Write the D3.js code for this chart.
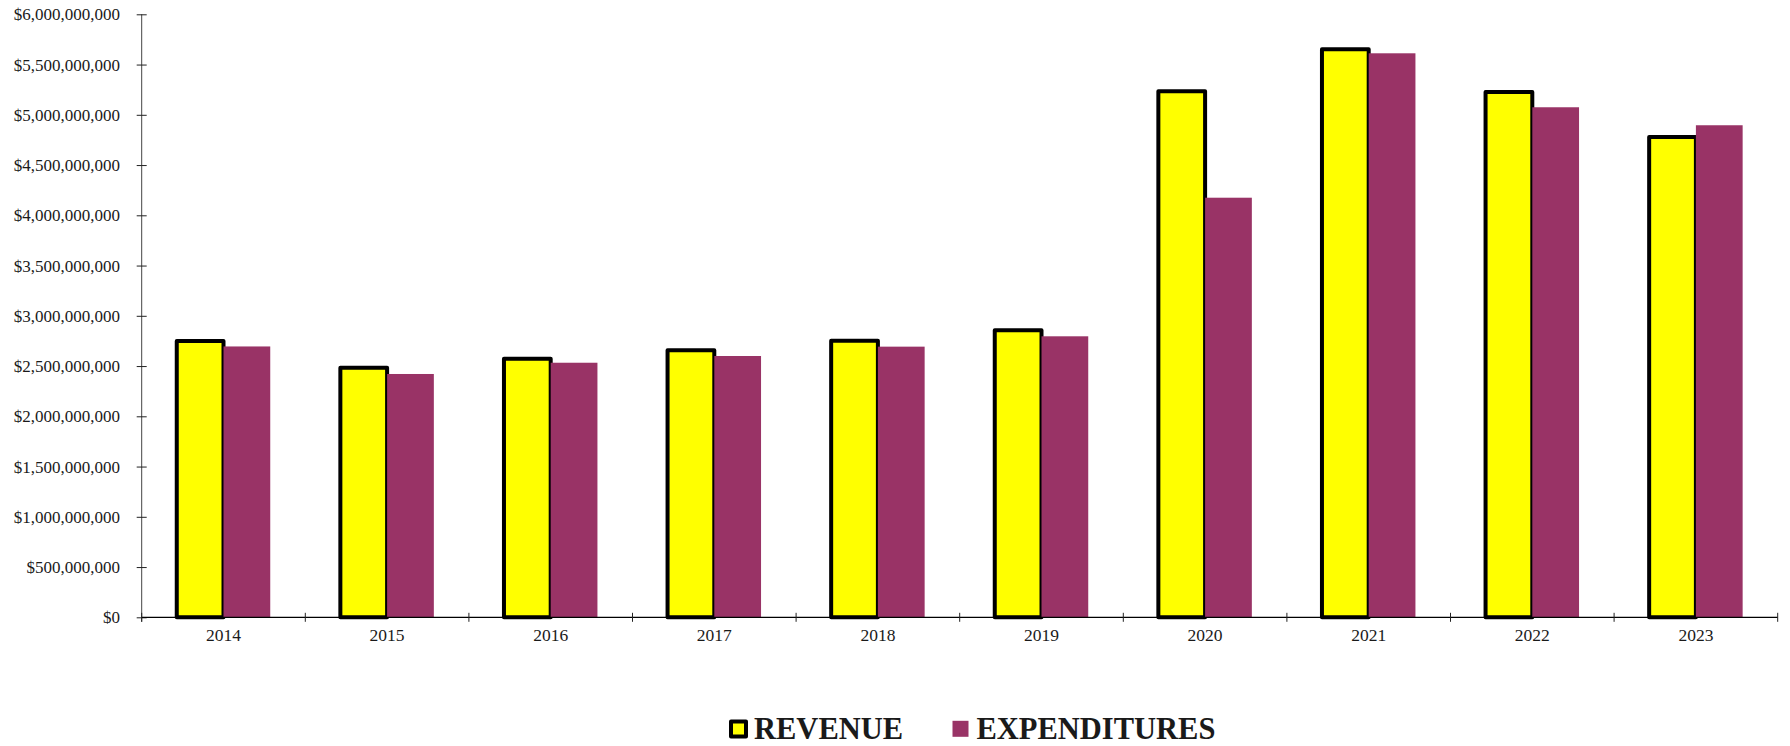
<!DOCTYPE html>
<html>
<head>
<meta charset="utf-8">
<script src="https://cdn.jsdelivr.net/npm/d3@7"></script>
<style>
  html, body { margin: 0; padding: 0; background: #fff; }
  svg { display: block; }
  text { font-family: "Liberation Serif", "Times New Roman", serif; fill: #1a1a1a; }
</style>
</head>
<body>
<svg id="chart" width="1790" height="746"></svg>
<script>
// Fiscal years shown on the category axis
const years = ["2014", "2015", "2016", "2017", "2018", "2019", "2020", "2021", "2022", "2023"];

// Annual totals in dollars
const revenue = [2750000000, 2484000000, 2573000000, 2657000000, 2752000000,
                 2856000000, 5234000000, 5652000000, 5227000000, 4779000000];
const expenditures = [2695000000, 2421000000, 2533000000, 2600000000, 2693000000,
                      2796000000, 4175000000, 5612000000, 5075000000, 4896000000];

// Value axis ticks
const yTicks = [0, 500000000, 1000000000, 1500000000, 2000000000, 2500000000,
                3000000000, 3500000000, 4000000000, 4500000000, 5000000000,
                5500000000, 6000000000];

const seriesNames = ["REVENUE", "EXPENDITURES"];

const svg = d3.select("#chart");

const plot = { left: 141.7, right: 1777.7, top: 14.3, bottom: 617.3 };

const y = d3.scaleLinear()
  .domain([0, 6000000000])
  .range([plot.bottom, plot.top]);

const x0 = d3.scaleBand()
  .domain(years)
  .range([plot.left, plot.right])
  .padding(0);

const x1 = d3.scaleBand()
  .domain(seriesNames)
  .range([0, x0.bandwidth()])
  .paddingInner(0)
  .paddingOuter(0.75);

const fmt = v => "$" + d3.format(",")(v);

// Revenue bars: yellow with heavy black outline
svg.append("g")
  .selectAll("rect")
  .data(years.map((yr, i) => ({ yr, v: revenue[i] })))
  .join("rect")
  .attr("x", d => x0(d.yr) + x1("REVENUE"))
  .attr("y", d => y(d.v))
  .attr("width", x1.bandwidth())
  .attr("height", d => y(0) - y(d.v))
  .attr("fill", "#ffff00")
  .attr("stroke", "#000")
  .attr("stroke-width", 4)
  .attr("stroke-linejoin", "round");

// Expenditure bars: plum, no outline
svg.append("g")
  .selectAll("rect")
  .data(years.map((yr, i) => ({ yr, v: expenditures[i] })))
  .join("rect")
  .attr("x", d => x0(d.yr) + x1("EXPENDITURES"))
  .attr("y", d => y(d.v))
  .attr("width", x1.bandwidth())
  .attr("height", d => y(0) - y(d.v))
  .attr("fill", "#993366");

// Value axis
const yAxis = svg.append("g")
  .attr("transform", `translate(${plot.left},0)`)
  .call(d3.axisLeft(y).tickValues(yTicks).tickFormat(fmt).tickSize(5).tickPadding(0));
yAxis.select(".domain").attr("stroke", "#444").attr("d", `M0,${plot.top}V${plot.bottom + 4.5}`);
yAxis.selectAll(".tick line").attr("x1", 5).attr("x2", -5).attr("stroke", "#222");
yAxis.selectAll(".tick text")
  .attr("x", -21.7)
  .attr("dy", "0.33em")
  .style("font-size", "17px")
  .style("font-family", "'Liberation Serif', 'Times New Roman', serif")
  .attr("fill", "#1a1a1a");

// Category axis
const xAxis = svg.append("g");
xAxis.append("line")
  .attr("x1", plot.left).attr("x2", plot.right)
  .attr("y1", plot.bottom).attr("y2", plot.bottom)
  .attr("stroke", "#000").attr("stroke-width", 1.2);

const boundaries = years.map(yr => x0(yr)).concat([x0.range()[1]]);
xAxis.selectAll("line.tick")
  .data(boundaries)
  .join("line")
  .attr("class", "tick")
  .attr("x1", d => d).attr("x2", d => d)
  .attr("y1", plot.bottom - 4.5).attr("y2", plot.bottom + 4.5)
  .attr("stroke", "#222");

xAxis.selectAll("text")
  .data(years)
  .join("text")
  .attr("x", d => x0(d) + x0.bandwidth() / 2)
  .attr("y", 641)
  .attr("text-anchor", "middle")
  .style("font-size", "17.5px")
  .text(d => d);

// Legend
const legend = svg.append("g");
legend.append("rect")
  .attr("x", 731).attr("y", 721.6)
  .attr("width", 15).attr("height", 15)
  .attr("fill", "#ffff00")
  .attr("stroke", "#000")
  .attr("stroke-width", 4)
  .attr("stroke-linejoin", "round");
legend.append("text")
  .attr("x", 754).attr("y", 738.6)
  .style("font-size", "30.5px")
  .style("font-weight", "bold")
  .attr("fill", "#000")
  .text(seriesNames[0]);

legend.append("rect")
  .attr("x", 952.5).attr("y", 720.8)
  .attr("width", 16).attr("height", 16)
  .attr("fill", "#993366");
legend.append("text")
  .attr("x", 976.4).attr("y", 738.6)
  .style("font-size", "30.5px")
  .style("font-weight", "bold")
  .attr("fill", "#000")
  .text(seriesNames[1]);
</script>
</body>
</html>
